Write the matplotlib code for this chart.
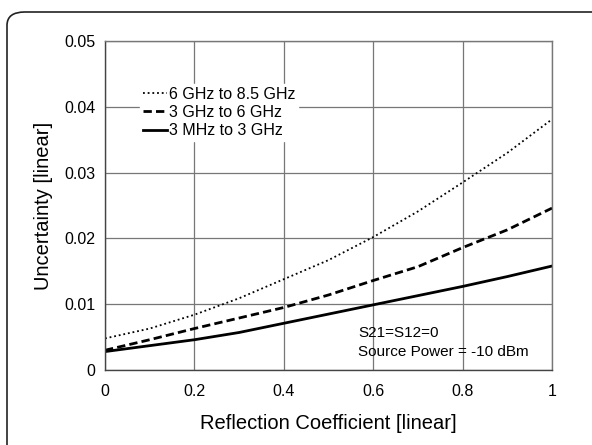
import numpy as np
import matplotlib.pyplot as plt
from matplotlib.patches import FancyBboxPatch

plt.rcParams['font.family'] = ['Liberation Sans', 'DejaVu Sans']

# reflection coefficient samples
refl = [0.0, 0.1, 0.2, 0.3, 0.4, 0.5, 0.6, 0.7, 0.8, 0.9, 1.0]

# uncertainty
u_high = [0.0048, 0.0063, 0.0084, 0.0109, 0.0138, 0.0167, 0.0202, 0.0241, 0.0285, 0.0330, 0.0381]
u_mid = [0.0030, 0.0046, 0.0063, 0.0079, 0.0095, 0.0114, 0.0136, 0.0157, 0.0186, 0.0213, 0.0246]
u_low = [0.0028, 0.0037, 0.0046, 0.0057, 0.0071, 0.0085, 0.0099, 0.0113, 0.0127, 0.0142, 0.0158]

labels = ['6 GHz to 8.5 GHz', '3 GHz to 6 GHz', '3 MHz to 3 GHz']

fig = plt.figure(figsize=(5.92, 4.45), dpi=100)

# rounded outer frame running off the right and bottom edges
frame = FancyBboxPatch((7 / 592, -0.2), 1.2, 1 - 12 / 445 + 0.2,
                       boxstyle='round,pad=0,rounding_size=0.03',
                       transform=fig.transFigure, fill=False,
                       edgecolor='#222222', linewidth=1.2)
fig.patches.append(frame)

ax = fig.add_axes([105 / 592, 1 - 370 / 445, 447 / 592, 329 / 445])

x = np.array(refl)
ax.plot(x, u_high, color='black', linestyle=(0, (1, 1.6)), linewidth=1.3, label=labels[0])
ax.plot(x, u_mid, color='black', linestyle=(0, (3, 1.5)), linewidth=2.0, label=labels[1])
ax.plot(x, u_low, color='black', linestyle='-', linewidth=2.0, label=labels[2])

ax.set_xlim(0, 1)
ax.set_ylim(0, 0.05)
ax.set_xticks([0, 0.2, 0.4, 0.6, 0.8, 1])
ax.set_xticklabels(['0', '0.2', '0.4', '0.6', '0.8', '1'])
ax.set_yticks([0, 0.01, 0.02, 0.03, 0.04, 0.05])
ax.set_yticklabels(['0', '0.01', '0.02', '0.03', '0.04', '0.05'])
ax.tick_params(length=0, labelsize=11.5)
ax.tick_params(axis='x', pad=10)
ax.tick_params(axis='y', pad=7)
ax.grid(True, color='#777777', linewidth=0.9)
ax.set_axisbelow(True)
for s in ax.spines.values():
    s.set_color('#777777')
    s.set_linewidth(1.0)
ax.spines['left'].set_color('#444444')
ax.spines['bottom'].set_color('#444444')

ax.set_xlabel('Reflection Coefficient [linear]', fontsize=14.5, labelpad=11)
ax.set_ylabel('Uncertainty [linear]', fontsize=14.5, labelpad=8)

leg = ax.legend(loc='upper left', bbox_to_anchor=(0.06, 0.895), frameon=True,
                fancybox=False, edgecolor='white', framealpha=1,
                fontsize=11.5, handlelength=1.5, handletextpad=0.1,
                labelspacing=0.2, borderpad=0.2)

ax.text(0.566, 0.0056, 'S21=S12=0', fontsize=11, va='center')
ax.text(0.566, 0.0027, 'Source Power = -10 dBm', fontsize=11, va='center')

fig.savefig('out.png', dpi=100)
